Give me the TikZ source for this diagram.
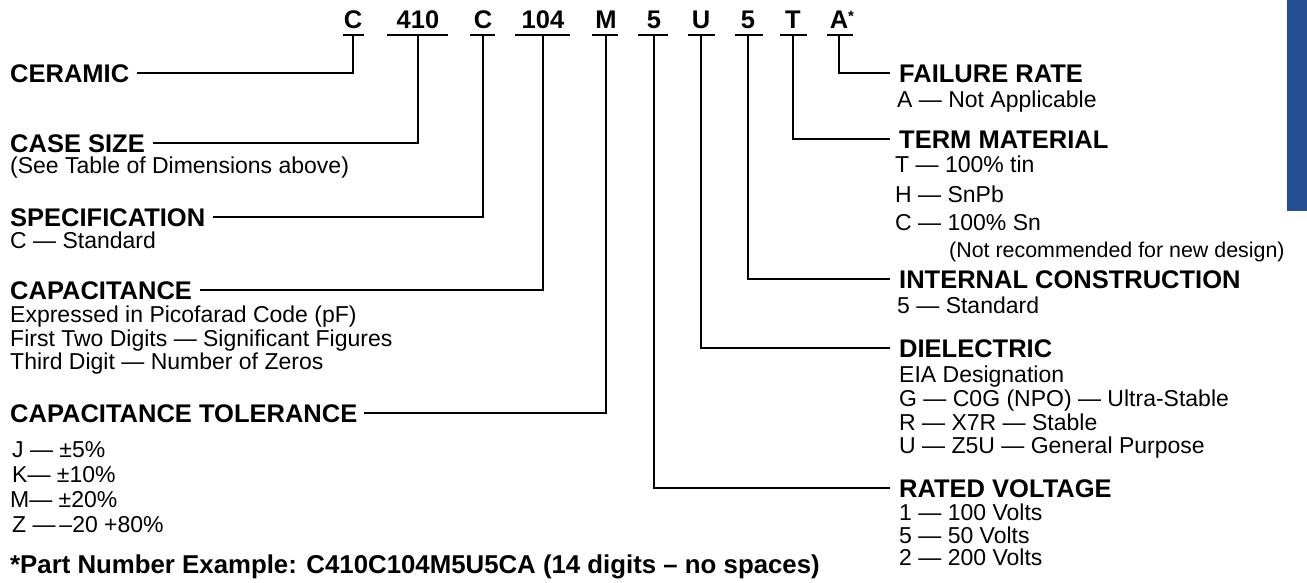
\documentclass[tikz,border=0pt]{standalone}
\usepackage{fontspec}
\setmainfont{Liberation Sans}
\definecolor{barblue}{RGB}{35,78,145}
\begin{document}
\begin{tikzpicture}[x=1pt,y=-1pt,
  head/.style={anchor=base west,inner sep=0pt,font=\fontsize{25.5}{25.5}\selectfont\bfseries},
  sub/.style={anchor=base west,inner sep=0pt,font=\fontsize{23}{23}\selectfont},
  code/.style={anchor=base,inner sep=0pt,font=\fontsize{25.5}{25.5}\selectfont\bfseries},
  wire/.style={line width=1.8pt},
  uline/.style={line width=1.8pt}]
\useasboundingbox (0,0) rectangle (1307,582);
\fill[white] (0,0) rectangle (1307,582);
\fill[barblue] (1287,0) rectangle (1307,211);

% top code letters
\node[code] (k1) at (353,28) {C};
\node[code] (k2) at (418,28) {410};
\node[code] (k3) at (483,28) {C};
\node[code] (k4) at (543,28) {104};
\node[code] (k5) at (606,28) {M};
\node[code] (k6) at (654,28) {5};
\node[code] (k7) at (701,28) {U};
\node[code] (k8) at (748,28) {5};
\node[code] (k9) at (793,28) {T};
\node[code] (k10) at (839,28) {A\rlap{\raisebox{7pt}{\fontsize{15}{15}\selectfont *}}};

\coordinate (s1) at (353,35);
\coordinate (s2) at (418,35);
\coordinate (s3) at (483,35);
\coordinate (s4) at (543,35);
\coordinate (s5) at (606,35);
\coordinate (s6) at (654,35);
\coordinate (s7) at (701,35);
\coordinate (s8) at (748,35);
\coordinate (s9) at (793,35);
\coordinate (s10) at (839,35);

\draw[uline] ([xshift=-10.5pt]s1) -- ([xshift=10.5pt]s1);
\draw[uline] ([xshift=-31pt]s2) -- ([xshift=30pt]s2);
\draw[uline] ([xshift=-13pt]s3) -- ([xshift=12pt]s3);
\draw[uline] ([xshift=-28pt]s4) -- ([xshift=27pt]s4);
\draw[uline] ([xshift=-14pt]s5) -- ([xshift=12pt]s5);
\draw[uline] ([xshift=-16pt]s6) -- ([xshift=14pt]s6);
\draw[uline] ([xshift=-13pt]s7) -- ([xshift=14pt]s7);
\draw[uline] ([xshift=-13pt]s8) -- ([xshift=15pt]s8);
\draw[uline] ([xshift=-13pt]s9) -- ([xshift=14pt]s9);
\draw[uline] ([xshift=-12pt]s10) -- ([xshift=14pt]s10);

% left column
\node[head] (ceramic) at (10,82) {CERAMIC};
\node[head] (casesize) at (10,152) {CASE SIZE};
\node[sub] (cs1) at (10,173) {(See Table of Dimensions above)};
\node[head] (spec) at (10,226) {SPECIFICATION};
\node[sub] (sp1) at (10,248) {C — Standard};
\node[head] (cap) at (10,299) {CAPACITANCE};
\node[sub] (cp1) at (10,322) {Expressed in Picofarad Code (pF)};
\node[sub] (cp2) at (10,346) {First Two Digits — Significant Figures};
\node[sub] (cp3) at (10,369) {Third Digit — Number of Zeros};
\node[head] (captol) at (10,422) {CAPACITANCE TOLERANCE};
\node[sub] (ct1) at (12,457) {J — ±5\%};
\node[sub] (ct2) at (12,482) {K— ±10\%};
\node[sub] (ct3) at (10,507) {M— ±20\%};
\node[sub] (ct4) at (12,532) {Z —\,–20 +80\%};
\node[anchor=base west,inner sep=0pt,font=\fontsize{25.8}{25.8}\selectfont\bfseries] (partno) at (10,573)
  {*Part Number Example: C410C104M5U5CA (14 digits – no spaces)};

% right column
\node[head] (failure) at (899,82) {FAILURE RATE};
\node[sub] (fr1) at (897,107) {A — Not Applicable};
\node[head] (term) at (899,148) {TERM MATERIAL};
\node[sub] (tm1) at (895,172) {T — 100\% tin};
\node[sub] (tm2) at (895,202) {H — SnPb};
\node[sub] (tm3) at (895,230) {C — 100\% Sn};
\node[sub,font=\fontsize{21.4}{21.4}\selectfont] (tm4) at (949,257) {(Not recommended for new design)};
\node[head] (internal) at (899,288) {INTERNAL CONSTRUCTION};
\node[sub] (ic1) at (897,313) {5 — Standard};
\node[head] (diel) at (899,357) {DIELECTRIC};
\node[sub] (de1) at (899,382) {EIA Designation};
\node[sub] (de2) at (899,406) {G — C0G (NPO) — Ultra-Stable};
\node[sub] (de3) at (899,430) {R — X7R — Stable};
\node[sub] (de4) at (899,453) {U — Z5U — General Purpose};
\node[head] (rated) at (899,497) {RATED VOLTAGE};
\node[sub] (rv1) at (899,520) {1 — 100 Volts};
\node[sub] (rv2) at (899,543) {5 — 50 Volts};
\node[sub] (rv3) at (899,565) {2 — 200 Volts};

% connectors
\draw[wire] (s1) |- ([xshift=8pt]ceramic.east);
\draw[wire] (s2) |- ([xshift=8pt]casesize.east);
\draw[wire] (s3) |- ([xshift=8pt]spec.east);
\draw[wire] (s4) |- ([xshift=8pt]cap.east);
\draw[wire] (s5) |- ([xshift=7pt]captol.east);
\draw[wire] (s6) |- ([xshift=-9pt]rated.west);
\draw[wire] (s7) |- ([xshift=-9pt]diel.west);
\draw[wire] (s8) |- ([xshift=-9pt]internal.west);
\draw[wire] (s9) |- ([xshift=-9pt]term.west);
\draw[wire] (s10) |- ([xshift=-9pt]failure.west);
\end{tikzpicture}
\end{document}
